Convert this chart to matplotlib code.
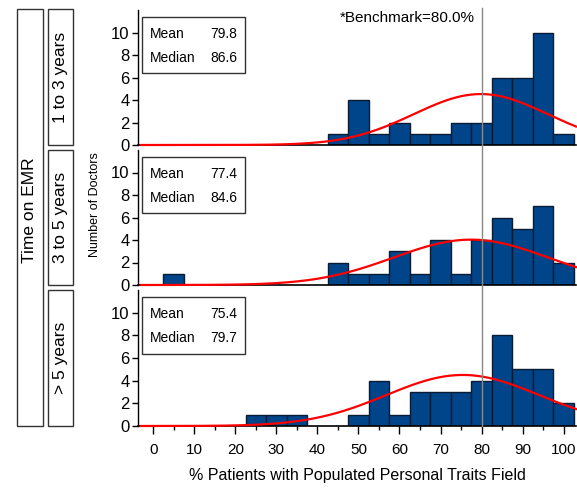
import numpy as np
import matplotlib
matplotlib.use("Agg")
import matplotlib.pyplot as plt
from matplotlib.patches import Rectangle
from matplotlib.lines import Line2D

plt.rcParams['font.family'] = ['Liberation Sans', 'DejaVu Sans']

# ---- data ----
bin_centers = [0, 5, 10, 15, 20, 25, 30, 35, 40, 45, 50, 55, 60, 65, 70, 75, 80, 85, 90, 95, 100]
counts_1to3 = [0, 0, 0, 0, 0, 0, 0, 0, 0, 1, 4, 1, 2, 1, 1, 2, 2, 6, 6, 10, 1]
counts_3to5 = [0, 1, 0, 0, 0, 0, 0, 0, 0, 2, 1, 1, 3, 1, 4, 1, 4, 6, 5, 7, 2]
counts_gt5 = [0, 0, 0, 0, 0, 1, 1, 1, 0, 0, 1, 4, 1, 3, 3, 3, 4, 8, 5, 5, 2]
group_labels = ["1 to 3 years", "3 to 5 years", "> 5 years"]
means = [79.8, 77.4, 75.4]
medians = [86.6, 84.6, 79.7]
std_devs = [16.3, 18.8, 18.6]
benchmark = 80.0
x_ticks = [0, 10, 20, 30, 40, 50, 60, 70, 80, 90, 100]
y_ticks = [0, 2, 4, 6, 8, 10]

all_counts = [counts_1to3, counts_3to5, counts_gt5]
bin_width = 5

W, H = 577, 488
fig = plt.figure(figsize=(W / 100, H / 100), dpi=100)

def fx(px):
    return px / W

def fy(py):
    return 1 - py / H

left_px, right_px = 138, 576
panels_px = [(10, 145), (150, 285), (290, 426)]
bar_color = '#00458A'
edge_color = '#0A1C33'

axes = []
for i, (top, bot) in enumerate(panels_px):
    ax = fig.add_axes([fx(left_px), fy(bot), fx(right_px - left_px), (bot - top) / H])
    axes.append(ax)
    counts = all_counts[i]
    n = sum(counts)
    xs = [c for c, k in zip(bin_centers, counts) if k > 0]
    hs = [k for k in counts if k > 0]
    ax.bar(xs, hs, width=bin_width, color=bar_color, edgecolor=edge_color,
           linewidth=1.0, zorder=2)
    xx = np.linspace(-3, 103, 300)
    yy = n * bin_width / (std_devs[i] * np.sqrt(2 * np.pi)) * np.exp(-0.5 * ((xx - means[i]) / std_devs[i]) ** 2)
    ax.plot(xx, yy, color='#FF0000', lw=1.6, zorder=3, clip_on=False)
    ax.set_xlim(-3.7, 103)
    ax.set_ylim(0, 12)
    ax.set_yticks(y_ticks)
    ax.set_yticklabels([str(v) for v in y_ticks], fontsize=12)
    ax.tick_params(axis='y', direction='out', length=4, width=1, pad=2)
    for s in ['top', 'right']:
        ax.spines[s].set_visible(False)
    ax.spines['left'].set_linewidth(1)
    ax.spines['bottom'].set_linewidth(1.2)
    ax.patch.set_alpha(0)
    if i < 2:
        ax.set_xticks([])
    else:
        ax.set_xticks(x_ticks)
        ax.set_xticklabels([str(v) for v in x_ticks], fontsize=11)
        ax.set_xticks(np.arange(-0, 105, 5), minor=True)
        ax.tick_params(axis='x', which='major', direction='out', length=6, width=1, pad=6)
        ax.tick_params(axis='x', which='minor', direction='out', length=3, width=1)
    # stats box
    ax.add_patch(Rectangle((0.009, 0.533), 0.235, 0.413, transform=ax.transAxes,
                           fill=True, facecolor='white', edgecolor='#333333',
                           lw=1.0, zorder=4))
    ax.text(0.027, 0.822, "Mean", transform=ax.transAxes, fontsize=10,
            ha='left', va='center', zorder=5)
    ax.text(0.226, 0.822, f"{means[i]:.1f}", transform=ax.transAxes, fontsize=10,
            ha='right', va='center', zorder=5)
    ax.text(0.027, 0.644, "Median", transform=ax.transAxes, fontsize=10,
            ha='left', va='center', zorder=5)
    ax.text(0.226, 0.644, f"{medians[i]:.1f}", transform=ax.transAxes, fontsize=10,
            ha='right', va='center', zorder=5)

axes[2].set_xlabel("% Patients with Populated Personal Traits Field", fontsize=11.5, labelpad=8)

# benchmark line across all panels
fig.canvas.draw()
bx_disp = axes[0].transData.transform((benchmark, 0))[0]
bx = bx_disp / fig.bbox.width
fig.add_artist(Line2D([bx, bx], [fy(426), fy(8)], transform=fig.transFigure,
                      color='#888888', lw=1.0, zorder=10))
fig.text(bx - fx(7), fy(18), f"*Benchmark={benchmark:.1f}%", fontsize=11,
         ha='right', va='center')

# y label
fig.text(fx(95), fy(205), "Number of Doctors", rotation=90, fontsize=9,
         ha='center', va='center')

# strip boxes
fig.add_artist(Rectangle((fx(17), fy(426)), fx(43 - 17), (426 - 9) / H,
                         transform=fig.transFigure, fill=False, edgecolor='#333333', lw=1))
fig.text(fx(30), fy(210), "Time on EMR", rotation=90, fontsize=12.5,
         ha='center', va='center')
strip_px = [(9, 145), (150, 285), (290, 426)]
for (top, bot), lab in zip(strip_px, group_labels):
    fig.add_artist(Rectangle((fx(48), fy(bot)), fx(73 - 48), (bot - top) / H,
                             transform=fig.transFigure, fill=False, edgecolor='#333333', lw=1))
    fig.text(fx(60.5), fy((top + bot) / 2), lab, rotation=90, fontsize=12.5,
             ha='center', va='center')

fig.savefig("out.png", dpi=100)
